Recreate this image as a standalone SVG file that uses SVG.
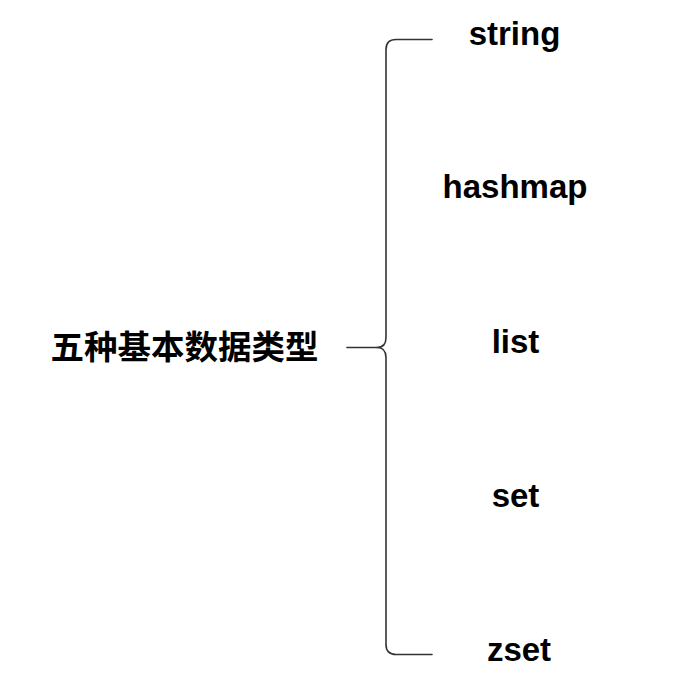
<svg xmlns="http://www.w3.org/2000/svg" width="678" height="682" viewBox="0 0 678 682">
<style>
.lbl{font-family:"Liberation Sans",Arial,sans-serif;font-weight:bold;font-size:33px;fill:#000;text-anchor:middle}
.cjk{font-family:"Noto Sans CJK SC","Liberation Sans",sans-serif;font-weight:bold;font-size:33.5px;fill:#000;text-anchor:middle}
.conn{fill:none;stroke:#333;stroke-width:1.6;stroke-linecap:round;stroke-linejoin:round}
</style>
<rect width="678" height="682" fill="#fff"/>
<g id="connectors">
<path class="conn" d="M432,39.5 L396,39.5 Q386,39.5 386,49.5 L386,337.5 Q386,347.5 377,347.5 Q386,347.5 386,357.5 L386,644.5 Q386,654.5 396,654.5 L432,654.5"/>
<path class="conn" d="M347,347.5 L377,347.5"/>
</g>
<g id="root"><text class="cjk" x="184.5" y="359">五种基本数据类型</text></g>
<g id="string"><text class="lbl" x="514.5" y="45">string</text></g>
<g id="hashmap"><text class="lbl" x="515" y="198">hashmap</text></g>
<g id="list"><text class="lbl" x="515.5" y="353">list</text></g>
<g id="set"><text class="lbl" x="515.5" y="507">set</text></g>
<g id="zset"><text class="lbl" x="519" y="661">zset</text></g>
</svg>
